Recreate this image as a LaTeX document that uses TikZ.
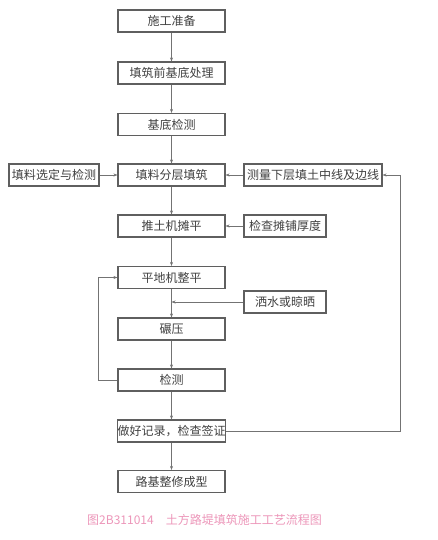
\documentclass[tikz,border=0pt]{standalone}
\usepackage{fontspec}
\newfontfamily\cjk{Noto Sans CJK SC}
\usetikzlibrary{positioning,arrows.meta}
\definecolor{boxline}{RGB}{95,95,95}
\definecolor{capcol}{RGB}{236,150,185}
\tikzset{
  stepbox/.style={draw=boxline, line width=1.1pt, minimum height=22pt, inner sep=0pt,
                  font=\cjk\fontsize{12}{14}\selectfont, text=black!75},
  mainbox/.style={stepbox, minimum width=107pt},
  arr/.style={-{Stealth[length=4pt,width=3pt]}, draw=black!55, line width=0.5pt}
}
\begin{document}
\begin{tikzpicture}[x=1pt, y=-1pt]
  \useasboundingbox (0,0) rectangle (437,540);
  % main column
  \node [mainbox] (prep) at (171.5,21) {施工准备};
  \node [mainbox] (base) at (171.5,73) {填筑前基底处理};
  \node [mainbox] (check) at (171.5,124.5) {基底检测};
  \node [mainbox] (fill) at (171.5,175) {填料分层填筑};
  \node [mainbox] (doze) at (171.5,226) {推土机摊平};
  \node [mainbox] (grade) at (171.5,277.5) {平地机整平};
  \node [mainbox] (roll) at (171.5,329) {碾压};
  \node [mainbox] (test) at (171.5,380) {检测};
  \node [mainbox] (record) at (171.5,431) {做好记录，检查签证};
  \node [mainbox] (shape) at (171.5,481.5) {路基整修成型};
  % side boxes
  \node [stepbox, minimum width=90pt] (mat) at (54,175) {填料选定与检测};
  \node [stepbox, minimum width=138pt] (survey) at (313,175) {测量下层填土中线及边线};
  \node [stepbox, minimum width=82pt] (thick) at (285,226) {检查摊铺厚度};
  \node [stepbox, minimum width=82pt] (water) at (285,302) {洒水或晾晒};
  \coordinate (join) at (grade.south |- water.west);
  % arrows
  \draw [arr] (prep) -- (base);
  \draw [arr] (base) -- (check);
  \draw [arr] (check) -- (fill);
  \draw [arr] (fill) -- (doze);
  \draw [arr] (doze) -- (grade);
  \draw [arr] (grade) -- (roll);
  \draw [arr] (roll) -- (test);
  \draw [arr] (test) -- (record);
  \draw [arr] (record) -- (shape);
  \draw [arr] (mat) -- (fill);
  \draw [arr] (survey) -- (fill);
  \draw [arr] (thick) -- (doze);
  \draw [arr] (water) -- (join);
  \draw [arr] (test.west) -- ++(-19,0) |- (grade.west);
  \draw [arr] (record.east) -- ++(174,0) |- (survey.east);
  % caption
  \node [font=\cjk\fontsize{12}{14}\selectfont, text=capcol] (cap) at (204.5,520) {图2B311014\quad 土方路堤填筑施工工艺流程图};
\end{tikzpicture}
\end{document}
